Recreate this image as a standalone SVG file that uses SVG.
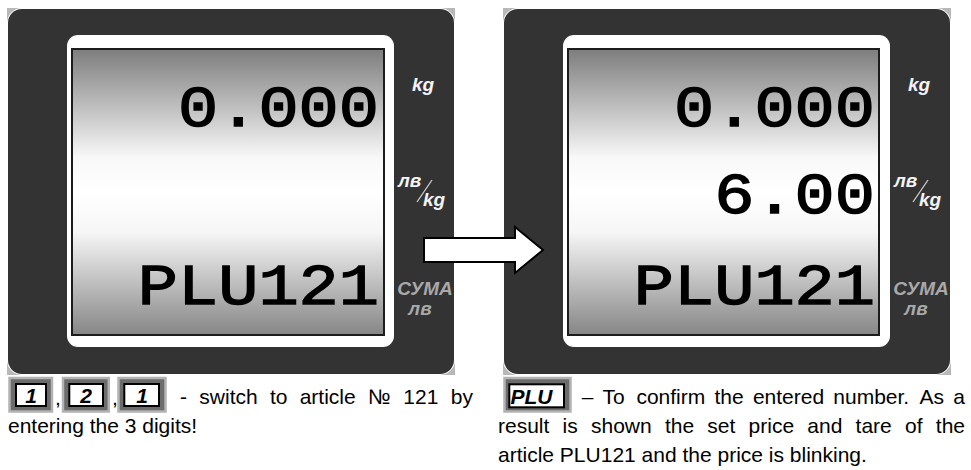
<svg xmlns="http://www.w3.org/2000/svg" width="971" height="470" viewBox="0 0 971 470">
<defs>
<linearGradient id="scr" x1="0" y1="0" x2="0" y2="1">
<stop offset="0" stop-color="#7d7d7d"/>
<stop offset="0.38" stop-color="#f8f8f8"/>
<stop offset="0.5" stop-color="#ffffff"/>
<stop offset="0.64" stop-color="#f6f6f6"/>
<stop offset="1" stop-color="#868686"/>
</linearGradient>
<style>
.corner{fill:#b8b8b8}
.halo{fill:#ffffff}
.body{fill:#333333}
.bezel{fill:#ffffff}
.screen{fill:url(#scr);stroke:#1c1c1c;stroke-width:2}
.lcd{font-family:"Liberation Mono","Courier New",monospace;font-weight:normal;font-size:67px;fill:#000;stroke:#000;stroke-width:1.6;text-anchor:end}
.unit{font-family:"Liberation Sans",Arial,sans-serif;font-weight:bold;font-style:italic;font-size:19px;fill:#f4f4f4}
.unitg{font-family:"Liberation Sans",Arial,sans-serif;font-weight:bold;font-style:italic;font-size:19px;fill:#a9a9a9}
.slash{stroke:#cfcfcf;stroke-width:1.3}
.arrow{fill:#ffffff;stroke:#000000;stroke-width:2;stroke-linejoin:miter}
.txt{font-family:"Liberation Sans",Arial,sans-serif;font-size:21px;fill:#000}
.keyo{fill:#6c6c6c;stroke:#b3b3b3;stroke-width:2.5}
.keyi{fill:#ffffff;stroke:#000000;stroke-width:2}
.keyt{font-family:"Liberation Sans",Arial,sans-serif;font-weight:bold;font-style:italic;font-size:21px;fill:#000}
</style>
</defs>
<g id="display-before">
<rect class="corner" x="7" y="8" width="448" height="367"/>
<rect class="halo" x="7" y="8" width="448" height="367" rx="15"/>
<rect class="body" x="8" y="9" width="446" height="365" rx="14"/>
<rect class="bezel" x="67" y="35" width="327" height="312" rx="11"/>
<rect class="screen" x="72" y="49" width="312" height="286"/>
<text class="lcd" transform="translate(379,126) scale(1,0.85)">0.000</text>
<text class="lcd" transform="translate(379,304) scale(1,0.85)">PLU121</text>
<text class="unit" x="423" y="91" text-anchor="middle">kg</text>
<text class="unit" x="398" y="187">лв</text>
<line class="slash" x1="417" y1="202" x2="432" y2="180"/>
<text class="unit" x="423" y="206">kg</text>
<text class="unitg" x="425" y="295" text-anchor="middle">СУМА</text>
<text class="unitg" x="420" y="315" text-anchor="middle">лв</text>
</g>
<g id="display-after">
<rect class="corner" x="503" y="8" width="448" height="367"/>
<rect class="halo" x="503" y="8" width="448" height="367" rx="15"/>
<rect class="body" x="504" y="9" width="446" height="365" rx="14"/>
<rect class="bezel" x="563" y="35" width="327" height="312" rx="11"/>
<rect class="screen" x="568" y="49" width="311" height="286"/>
<text class="lcd" transform="translate(875,126) scale(1,0.85)">0.000</text>
<text class="lcd" transform="translate(875,213) scale(1,0.85)">6.00</text>
<text class="lcd" transform="translate(875,304) scale(1,0.85)">PLU121</text>
<text class="unit" x="919" y="91" text-anchor="middle">kg</text>
<text class="unit" x="894" y="187">лв</text>
<line class="slash" x1="913" y1="202" x2="928" y2="180"/>
<text class="unit" x="919" y="206">kg</text>
<text class="unitg" x="921" y="295" text-anchor="middle">СУМА</text>
<text class="unitg" x="916" y="315" text-anchor="middle">лв</text>
</g>
<g id="connectors">
<polygon class="arrow" points="424,238 515,238 515,227 543,250 515,273 515,262 424,262"/>
</g>
<g id="caption-before">
<rect class="keyo" x="9.5" y="378" width="42.5" height="33.5"/>
<rect class="keyi" x="16" y="384" width="30" height="22"/>
<text class="keyt" x="31" y="403" text-anchor="middle">1</text>
<text class="txt" x="55" y="405" font-size="17">,</text>
<rect class="keyo" x="63" y="378" width="45.8" height="33.5"/>
<rect class="keyi" x="69.3" y="384" width="33.7" height="22"/>
<text class="keyt" x="86" y="403" text-anchor="middle">2</text>
<text class="txt" x="112" y="405" font-size="17">,</text>
<rect class="keyo" x="118.5" y="378" width="47" height="33.5"/>
<rect class="keyi" x="124.3" y="384" width="34.7" height="22"/>
<text class="keyt" x="142" y="403" text-anchor="middle">1</text>
<text class="txt" y="404"><tspan x="180">-</tspan><tspan x="199.3">switch</tspan><tspan x="269.9">to</tspan><tspan x="299.7">article</tspan><tspan x="368">№</tspan><tspan x="403.3">121</tspan><tspan x="450.8">by</tspan></text>
<text class="txt" x="8" y="433">entering the 3 digits!</text>
</g>
<g id="caption-after">
<rect class="keyo" x="504.5" y="378" width="66" height="33.5"/>
<rect class="keyi" x="509.3" y="384.3" width="54.7" height="23"/>
<text class="keyt" x="510.5" y="403.5" font-size="22">PLU</text>
<text class="txt" y="404"><tspan x="581.7">–</tspan><tspan x="602.6">To</tspan><tspan x="636.4">confirm</tspan><tspan x="714.5">the</tspan><tspan x="752.9">entered</tspan><tspan x="833.3">number.</tspan><tspan x="919.6">As</tspan><tspan x="953.3">a</tspan></text>
<text class="txt" y="433"><tspan x="498">result</tspan><tspan x="562.6">is</tspan><tspan x="591">shown</tspan><tspan x="664.9">the</tspan><tspan x="707.3">set</tspan><tspan x="748.6">price</tspan><tspan x="807.3">and</tspan><tspan x="855.6">tare</tspan><tspan x="905">of</tspan><tspan x="935.8">the</tspan></text>
<text class="txt" x="498" y="462">article PLU121 and the price is blinking.</text>
</g>
</svg>
